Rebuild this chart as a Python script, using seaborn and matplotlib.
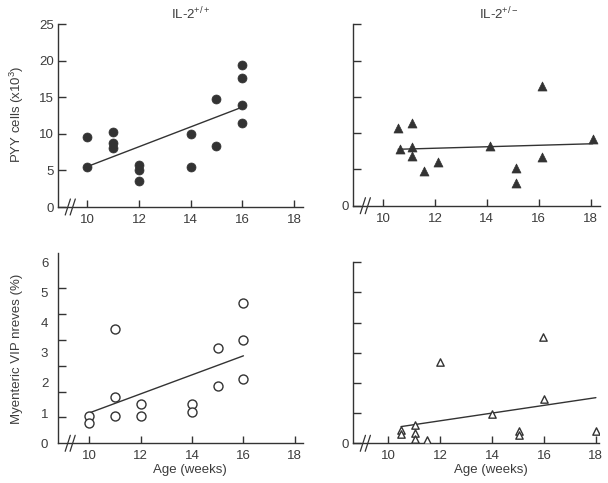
import matplotlib
matplotlib.use('Agg')
import seaborn as sns
import matplotlib.pyplot as plt
import numpy as np

# PYY cells (x10^3), IL-2+/+ and IL-2+/-
ages_wt_pyy = [10, 10, 11, 11, 11, 12, 12, 12, 14, 14, 15, 15, 16, 16, 16, 16]
pyy_wt = [9.5, 5.4, 10.3, 8.8, 8.0, 5.8, 5.05, 3.6, 10.0, 5.4, 14.7, 8.4, 19.4, 17.6, 14.0, 11.5]

ages_het_pyy = [10.58, 10.64, 11.1, 11.1, 11.1, 11.57, 12.1, 14.11, 15.11, 15.11, 16.11, 16.11, 18.08]
pyy_het = [10.75, 7.86, 11.35, 8.13, 6.8, 4.73, 6.07, 8.27, 5.24, 3.08, 16.54, 6.66, 9.19]

# Myenteric VIP nerves (%)
ages_wt_vip = [10, 10, 11, 11, 11, 12, 12, 14, 14, 15, 15, 16, 16, 16]
vip_wt = [0.91, 0.66, 3.8, 1.55, 0.91, 1.3, 0.91, 1.3, 1.04, 3.17, 1.91, 4.65, 3.43, 2.14]

ages_het_vip = [10.5, 10.5, 11.03, 11.03, 11.03, 11.49, 12.0, 14.0, 15.04, 15.04, 15.96, 16.0, 18.0]
vip_het = [0.44, 0.30, 0.60, 0.33, 0.15, 0.10, 2.71, 0.96, 0.42, 0.27, 3.51, 1.48, 0.42]

x_ticks = [10, 12, 14, 16, 18]

sns.set_style('ticks')
plt.rcParams['font.family'] = ['Liberation Sans', 'DejaVu Sans']
plt.rcParams['mathtext.fontset'] = 'custom'
plt.rcParams['mathtext.rm'] = 'Liberation Sans'
plt.rcParams['mathtext.it'] = 'Liberation Sans'

ink = '#333333'
txt = '#3c3c3c'
fs = 9.5

fig = plt.figure(figsize=(6.08, 4.83), dpi=100)


def add(l, t, r, b):
    return fig.add_axes([l / 608, 1 - b / 483, (r - l) / 608, (b - t) / 483])


ax1 = add(58, 24, 303, 207)
ax2 = add(353, 24.3, 600, 205.7)
ax3 = add(58, 252.7, 303, 443.3)
ax4 = add(353, 262.3, 599, 443.3)

line_kws = dict(color=ink, lw=1.0)

# top-left: filled circles
sns.scatterplot(x=ages_wt_pyy, y=pyy_wt, ax=ax1, marker='o', s=42,
                color=ink, edgecolor=ink, linewidth=0.5)
sns.regplot(x=ages_wt_pyy, y=pyy_wt, ax=ax1, scatter=False, ci=None, line_kws=line_kws)

# top-right: filled triangles
sns.scatterplot(x=ages_het_pyy, y=pyy_het, ax=ax2, marker='^', s=42,
                color=ink, edgecolor=ink, linewidth=0.5)
sns.regplot(x=ages_het_pyy, y=pyy_het, ax=ax2, scatter=False, ci=None, line_kws=line_kws)

# bottom-left: open circles
sns.scatterplot(x=ages_wt_vip, y=vip_wt, ax=ax3, marker='o', s=42,
                facecolor='white', edgecolor=ink, linewidth=1.0, zorder=3)
sns.regplot(x=ages_wt_vip, y=vip_wt, ax=ax3, scatter=False, ci=None, line_kws=line_kws)

# bottom-right: open triangles
sns.scatterplot(x=ages_het_vip, y=vip_het, ax=ax4, marker='^', s=28,
                facecolor='white', edgecolor=ink, linewidth=1.0, zorder=3)
sns.regplot(x=ages_het_vip, y=vip_het, ax=ax4, scatter=False, ci=None, line_kws=line_kws)

ax1.set_xlim(8.866, 18.35)
ax2.set_xlim(8.84, 18.36)
ax3.set_xlim(8.78, 18.32)
ax4.set_xlim(8.65, 18.12)
ax1.set_ylim(0, 25)
ax2.set_ylim(0, 25)
ax3.set_ylim(0, 6.32)
ax4.set_ylim(0, 6)

for ax in (ax1, ax2, ax3, ax4):
    sns.despine(ax=ax)
    for s in ('left', 'bottom'):
        ax.spines[s].set_color(ink)
        ax.spines[s].set_linewidth(1.0)
    ax.set_xticks(x_ticks)
    ax.set_xticklabels([str(v) for v in x_ticks])
    ax.tick_params(axis='x', direction='in', length=5, width=1.0, color=ink,
                   labelsize=fs, labelcolor=txt, pad=5)
    ax.tick_params(axis='y', direction='in', length=6, width=1.0, color=ink,
                   labelsize=fs, labelcolor=txt, pad=3)
    ax.set_xlabel('')
    ax.set_ylabel('')
    # axis break marks
    h = ax.get_position().height * 483
    dy = 8 / h
    tr = ax.get_xaxis_transform()
    x0 = ax.get_xlim()[0]
    for off in (0.28, 0.47):
        ax.plot([x0 + off, x0 + off + 0.2], [-dy, dy], transform=tr,
                color=ink, lw=0.9, clip_on=False)

pyy_ticks = [0, 5, 10, 15, 20, 25]
ax1.set_yticks(pyy_ticks)
ax1.set_yticklabels([str(v) for v in pyy_ticks])
ax2.set_yticks(pyy_ticks)
ax2.set_yticklabels(['0'] + [''] * 5)

vip_labels = [0, 1, 2, 3, 4, 5, 6]
ax3.set_yticks(vip_labels)
ax3.set_yticklabels([str(v) for v in vip_labels])
ax3.tick_params(axis='y', which='major', length=0, pad=7)
ax3.set_yticks(np.linspace(0, 6, 8), minor=True)
ax3.tick_params(axis='y', which='minor', direction='in', length=6, width=1.0, color=ink)
ax4.set_yticks(vip_labels)
ax4.set_yticklabels(['0'] + [''] * 6)

fig.text(191 / 608, 1 - 14 / 483, 'IL-2$^{+/+}$', ha='center', va='center',
         fontsize=fs, color=txt)
fig.text(499 / 608, 1 - 14 / 483, 'IL-2$^{+/-}$', ha='center', va='center',
         fontsize=fs, color=txt)

fig.text(17 / 608, 1 - 114 / 483, 'PYY cells (x10$^3$)', rotation=90,
         ha='center', va='center', fontsize=fs, color=txt)
fig.text(17 / 608, 1 - 349 / 483, 'Myenteric VIP nreves (%)', rotation=90,
         ha='center', va='center', fontsize=fs, color=txt)
fig.text(190 / 608, 1 - 470 / 483, 'Age (weeks)', ha='center', va='center',
         fontsize=fs, color=txt)
fig.text(491 / 608, 1 - 470 / 483, 'Age (weeks)', ha='center', va='center',
         fontsize=fs, color=txt)

plt.savefig('out.png', dpi=100)
